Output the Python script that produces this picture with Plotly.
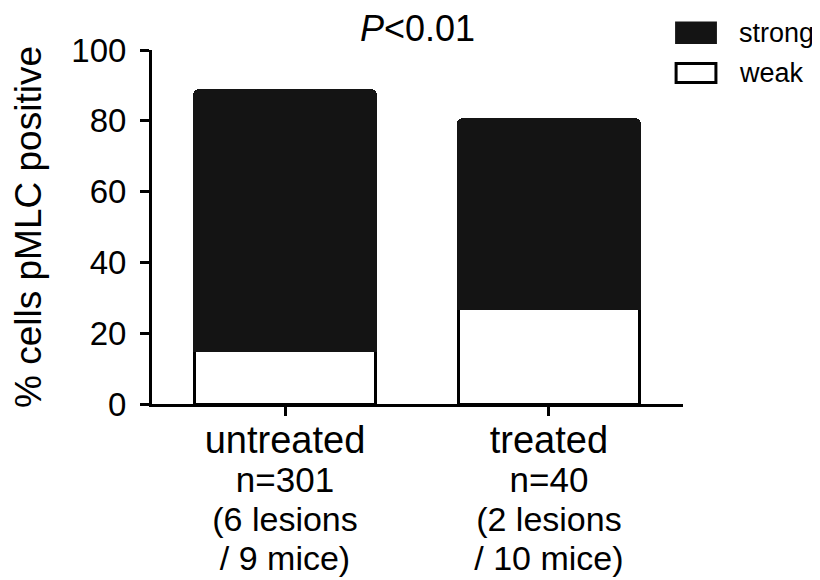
import plotly.graph_objects as go

# ---- data ----
groups = ["untreated", "treated"]
tick_lines_main = ["untreated", "treated"]
tick_lines_n = ["n=301", "n=40"]
tick_lines_lesions = ["(6 lesions", "(2 lesions"]
tick_lines_mice = ["/ 9 mice)", "/ 10 mice)"]
weak_pct = [15.0, 27.0]
strong_pct = [73.5, 53.3]
y_ticks = [0, 20, 40, 60, 80, 100]
series_names = ["weak", "strong"]

FONT = "Liberation Sans, Arial, sans-serif"

ticktext = [
    f"<span style='font-size:38px'>{a}</span><br><span style='font-size:35px'>{b}</span><br>"
    f"<span style='font-size:34px'>{c}</span><br><span style='font-size:34px'>{d}</span>"
    for a, b, c, d in zip(tick_lines_main, tick_lines_n, tick_lines_lesions, tick_lines_mice)
]

fig = go.Figure()
fig.add_trace(go.Bar(
    x=groups, y=weak_pct, name=series_names[0], width=0.685,
    marker=dict(color="white", line=dict(color="black", width=3)),
    showlegend=False,
))
fig.add_trace(go.Bar(
    x=groups, y=strong_pct, name=series_names[1], width=0.685,
    marker=dict(color="#141414", line=dict(color="#141414", width=3), cornerradius=4),
    showlegend=False,
))

# legend drawn as boxes + text
fig.add_shape(type="rect", xref="paper", yref="paper", x0=0.987, x1=1.062, y0=1.02, y1=1.078,
              fillcolor="#141414", line=dict(color="#141414", width=2))
fig.add_shape(type="rect", xref="paper", yref="paper", x0=0.987, x1=1.062, y0=0.908, y1=0.962,
              fillcolor="white", line=dict(color="black", width=3))
fig.add_annotation(xref="paper", yref="paper", x=1.102, y=1.049, text=series_names[1],
                   showarrow=False, xanchor="left", yanchor="middle",
                   font=dict(family=FONT, size=27, color="black"))
fig.add_annotation(xref="paper", yref="paper", x=1.102, y=0.935, text=series_names[0],
                   showarrow=False, xanchor="left", yanchor="middle",
                   font=dict(family=FONT, size=27, color="black"))

fig.update_layout(
    width=820, height=580,
    margin=dict(l=144, r=145, t=42, b=184, autoexpand=False),
    barmode="stack",
    paper_bgcolor="white", plot_bgcolor="white",
    font=dict(family=FONT, color="black"),
    title=dict(text="<i>P</i>&lt;0.01", x=0.5, xref="paper", xanchor="center",
               y=0.965, yref="container", yanchor="middle",
               font=dict(family=FONT, size=36, color="black")),
)
fig.update_xaxes(
    range=[-0.504, 1.508], showline=True, linecolor="black", linewidth=3,
    ticks="outside", ticklen=9, tickwidth=3, tickcolor="black",
    tickvals=groups, ticktext=ticktext, tickfont=dict(family=FONT, size=30, color="black"),
    ticklabelstandoff=1, showgrid=False, zeroline=False, tickangle=0,
)
fig.update_yaxes(
    range=[0, 100], showline=True, linecolor="black", linewidth=3,
    ticks="outside", ticklen=9, tickwidth=3, tickcolor="black",
    tickvals=y_ticks, tickfont=dict(family=FONT, size=33, color="black"),
    ticklabelstandoff=7, showgrid=False, zeroline=False,
    title=dict(text="% cells pMLC positive", font=dict(family=FONT, size=37, color="black"), standoff=20),
)

fig.write_html("out.html")
